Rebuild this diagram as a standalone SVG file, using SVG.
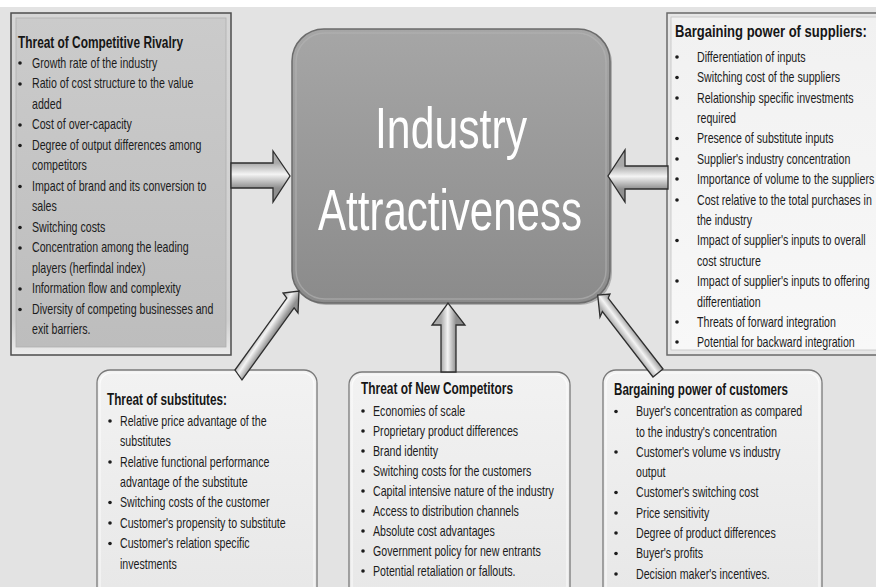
<svg xmlns="http://www.w3.org/2000/svg" width="876" height="587" viewBox="0 0 876 587">
<defs>
<style>
.t{font-family:"Liberation Sans",Arial,sans-serif;font-size:14px;fill:#1c1c1c}
.h{font-family:"Liberation Sans",Arial,sans-serif;font-size:16.5px;font-weight:bold;fill:#161616}
.c{font-family:"Liberation Sans",Arial,sans-serif;font-size:58px;fill:#ffffff}
.b{fill:#1c1c1c}
.arw{stroke:#2e2e2e;stroke-width:1.3;stroke-linejoin:miter}
</style>
<linearGradient id="gLeft" x1="0" y1="0" x2="0" y2="1">
<stop offset="0" stop-color="#cbcbcb"/><stop offset="1" stop-color="#bdbdbd"/>
</linearGradient>
<linearGradient id="gLeftOuter" x1="0" y1="0" x2="0" y2="1">
<stop offset="0" stop-color="#d6d6d6"/><stop offset="0.9" stop-color="#d0d0d0"/><stop offset="1" stop-color="#ececec"/>
</linearGradient>
<linearGradient id="gRight" x1="0" y1="0" x2="0" y2="1">
<stop offset="0" stop-color="#f1f1f1"/><stop offset="1" stop-color="#f8f8f8"/>
</linearGradient>
<linearGradient id="gBot" x1="0" y1="0" x2="0" y2="1">
<stop offset="0" stop-color="#f2f2f2"/><stop offset="1" stop-color="#e7e7e7"/>
</linearGradient>
<linearGradient id="gCenter" x1="0" y1="0" x2="0" y2="1">
<stop offset="0" stop-color="#a6a6a6"/><stop offset="1" stop-color="#8b8b8b"/>
</linearGradient>
<linearGradient id="a1" gradientUnits="userSpaceOnUse" x1="0" y1="163" x2="0" y2="188">
<stop offset="0" stop-color="#a9a9a9"/><stop offset="0.45" stop-color="#f4f4f4"/><stop offset="1" stop-color="#8f8f8f"/>
</linearGradient>
<linearGradient id="a4" gradientUnits="userSpaceOnUse" x1="0" y1="166" x2="0" y2="189">
<stop offset="0" stop-color="#a9a9a9"/><stop offset="0.45" stop-color="#f4f4f4"/><stop offset="1" stop-color="#8f8f8f"/>
</linearGradient>
<linearGradient id="a3" gradientUnits="userSpaceOnUse" x1="441" y1="0" x2="456" y2="0">
<stop offset="0" stop-color="#a9a9a9"/><stop offset="0.45" stop-color="#f4f4f4"/><stop offset="1" stop-color="#8f8f8f"/>
</linearGradient>
<linearGradient id="a2" gradientUnits="userSpaceOnUse" x1="259" y1="331" x2="271" y2="339">
<stop offset="0" stop-color="#a9a9a9"/><stop offset="0.45" stop-color="#f4f4f4"/><stop offset="1" stop-color="#8f8f8f"/>
</linearGradient>
<linearGradient id="a5" gradientUnits="userSpaceOnUse" x1="624" y1="340" x2="636" y2="331">
<stop offset="0" stop-color="#a9a9a9"/><stop offset="0.45" stop-color="#f4f4f4"/><stop offset="1" stop-color="#8f8f8f"/>
</linearGradient>
</defs>

<rect x="0" y="0" width="876" height="587" fill="#e3e3e3"/>
<rect x="0" y="0" width="876" height="7" fill="#ffffff"/>

<g id="rivalry">
<rect x="11" y="13" width="220" height="342" fill="url(#gLeftOuter)" stroke="#4d4d4d" stroke-width="1.5"/>
<rect x="16" y="18" width="210" height="329" fill="url(#gLeft)" stroke="#b0b0b0" stroke-width="0.8"/>
<text class="h" x="18" y="48" textLength="165" lengthAdjust="spacingAndGlyphs">Threat of Competitive Rivalry</text>
<g class="b">
<circle cx="20" cy="63" r="1.8"/><circle cx="20" cy="84" r="1.8"/><circle cx="20" cy="125" r="1.8"/>
<circle cx="20" cy="145.5" r="1.8"/><circle cx="20" cy="186.5" r="1.8"/><circle cx="20" cy="227.5" r="1.8"/>
<circle cx="20" cy="248" r="1.8"/><circle cx="20" cy="289" r="1.8"/><circle cx="20" cy="309.5" r="1.8"/>
</g>
<g transform="translate(32,0) scale(0.76,1)">
<text class="t" x="0" y="68">Growth rate of the industry</text>
<text class="t" x="0" y="88.5">Ratio of cost structure to the value</text>
<text class="t" x="0" y="109">added</text>
<text class="t" x="0" y="129.5">Cost of over-capacity</text>
<text class="t" x="0" y="150">Degree of output differences among</text>
<text class="t" x="0" y="170.5">competitors</text>
<text class="t" x="0" y="191">Impact of brand and its conversion to</text>
<text class="t" x="0" y="211.5">sales</text>
<text class="t" x="0" y="232">Switching costs</text>
<text class="t" x="0" y="252.5">Concentration among the leading</text>
<text class="t" x="0" y="273">players (herfindal index)</text>
<text class="t" x="0" y="293.5">Information flow and complexity</text>
<text class="t" x="0" y="314">Diversity of competing businesses and</text>
<text class="t" x="0" y="334.5">exit barriers.</text>
</g>
</g>

<g id="suppliers">
<rect x="667" y="13" width="220" height="342" fill="#e6e6e6" stroke="#6a6a6a" stroke-width="1.5"/>
<rect x="671" y="17" width="212" height="333" fill="url(#gRight)" stroke="#c4c4c4" stroke-width="0.8"/>
<g transform="translate(675,0) scale(0.79,1)">
<text class="h" x="0" y="37">Bargaining power of suppliers:</text>
</g>
<g class="b">
<circle cx="677" cy="57" r="1.8"/><circle cx="677" cy="77.5" r="1.8"/><circle cx="677" cy="98" r="1.8"/>
<circle cx="677" cy="138.5" r="1.8"/><circle cx="677" cy="159" r="1.8"/><circle cx="677" cy="179" r="1.8"/>
<circle cx="677" cy="200" r="1.8"/><circle cx="677" cy="240.5" r="1.8"/><circle cx="677" cy="281" r="1.8"/>
<circle cx="677" cy="322" r="1.8"/><circle cx="677" cy="342" r="1.8"/>
</g>
<g transform="translate(697,0) scale(0.76,1)">
<text class="t" x="0" y="62">Differentiation of inputs</text>
<text class="t" x="0" y="82.5">Switching cost of the suppliers</text>
<text class="t" x="0" y="103">Relationship specific investments</text>
<text class="t" x="0" y="123">required</text>
<text class="t" x="0" y="143.5">Presence of substitute inputs</text>
<text class="t" x="0" y="164">Supplier's industry concentration</text>
<text class="t" x="0" y="184">Importance of volume to the suppliers</text>
<text class="t" x="0" y="205">Cost relative to the total purchases in</text>
<text class="t" x="0" y="225">the industry</text>
<text class="t" x="0" y="245.5">Impact of supplier's inputs to overall</text>
<text class="t" x="0" y="266">cost structure</text>
<text class="t" x="0" y="286">Impact of supplier's inputs to offering</text>
<text class="t" x="0" y="307">differentiation</text>
<text class="t" x="0" y="327">Threats of forward integration</text>
<text class="t" x="0" y="347">Potential for backward integration</text>
</g>
</g>

<g id="substitutes">
<rect x="97" y="370" width="220" height="240" rx="13" fill="url(#gBot)" stroke="#7a7a7a" stroke-width="1.3"/>
<rect x="100" y="373" width="214" height="234" rx="11" fill="none" stroke="#ffffff" stroke-opacity="0.7" stroke-width="1.2"/>
<text class="h" x="107" y="405" textLength="120" lengthAdjust="spacingAndGlyphs">Threat of substitutes:</text>
<g class="b">
<circle cx="110" cy="421" r="1.8"/><circle cx="110" cy="462" r="1.8"/><circle cx="110" cy="502.5" r="1.8"/>
<circle cx="110" cy="523" r="1.8"/><circle cx="110" cy="543.5" r="1.8"/>
</g>
<g transform="translate(120,0) scale(0.76,1)">
<text class="t" x="0" y="426">Relative price advantage of the</text>
<text class="t" x="0" y="446.5">substitutes</text>
<text class="t" x="0" y="467">Relative functional performance</text>
<text class="t" x="0" y="487">advantage of the substitute</text>
<text class="t" x="0" y="507.5">Switching costs of the customer</text>
<text class="t" x="0" y="528">Customer's propensity to substitute</text>
<text class="t" x="0" y="548.5">Customer's relation specific</text>
<text class="t" x="0" y="569">investments</text>
</g>
</g>

<g id="new-competitors">
<rect x="349" y="372" width="221" height="240" rx="13" fill="url(#gBot)" stroke="#7a7a7a" stroke-width="1.3"/>
<rect x="352" y="375" width="215" height="234" rx="11" fill="none" stroke="#ffffff" stroke-opacity="0.7" stroke-width="1.2"/>
<text class="h" x="361" y="394" textLength="152" lengthAdjust="spacingAndGlyphs">Threat of New Competitors</text>
<g class="b">
<circle cx="363" cy="411" r="1.8"/><circle cx="363" cy="431" r="1.8"/><circle cx="363" cy="451" r="1.8"/>
<circle cx="363" cy="471" r="1.8"/><circle cx="363" cy="491" r="1.8"/><circle cx="363" cy="511" r="1.8"/>
<circle cx="363" cy="531" r="1.8"/><circle cx="363" cy="551" r="1.8"/><circle cx="363" cy="571" r="1.8"/>
</g>
<g transform="translate(373,0) scale(0.76,1)">
<text class="t" x="0" y="416">Economies of scale</text>
<text class="t" x="0" y="436">Proprietary product differences</text>
<text class="t" x="0" y="456">Brand identity</text>
<text class="t" x="0" y="476">Switching costs for the customers</text>
<text class="t" x="0" y="496">Capital intensive nature of the industry</text>
<text class="t" x="0" y="516">Access to distribution channels</text>
<text class="t" x="0" y="536">Absolute cost advantages</text>
<text class="t" x="0" y="556">Government policy for new entrants</text>
<text class="t" x="0" y="576">Potential retaliation or fallouts.</text>
</g>
</g>

<g id="customers">
<rect x="603" y="370" width="219" height="240" rx="13" fill="url(#gBot)" stroke="#7a7a7a" stroke-width="1.3"/>
<rect x="606" y="373" width="213" height="234" rx="11" fill="none" stroke="#ffffff" stroke-opacity="0.7" stroke-width="1.2"/>
<text class="h" x="614" y="395" textLength="174" lengthAdjust="spacingAndGlyphs">Bargaining power of customers</text>
<g class="b">
<circle cx="616" cy="411.5" r="1.8"/><circle cx="616" cy="452" r="1.8"/><circle cx="616" cy="492.5" r="1.8"/>
<circle cx="616" cy="513" r="1.8"/><circle cx="616" cy="533" r="1.8"/><circle cx="616" cy="553.5" r="1.8"/>
<circle cx="616" cy="574" r="1.8"/>
</g>
<g transform="translate(636,0) scale(0.76,1)">
<text class="t" x="0" y="416.5">Buyer's concentration as compared</text>
<text class="t" x="0" y="437">to the industry's concentration</text>
<text class="t" x="0" y="457">Customer's volume vs industry</text>
<text class="t" x="0" y="477.5">output</text>
<text class="t" x="0" y="497.5">Customer's switching cost</text>
<text class="t" x="0" y="518">Price sensitivity</text>
<text class="t" x="0" y="538">Degree of product differences</text>
<text class="t" x="0" y="558.5">Buyer's profits</text>
<text class="t" x="0" y="579">Decision maker's incentives.</text>
</g>
</g>

<g id="industry-attractiveness">
<rect x="294" y="31" width="318" height="274" rx="32" fill="#6f6f6f" opacity="0.45"/>
<rect x="292" y="29" width="318" height="274" rx="32" fill="url(#gCenter)" stroke="#6b6b6b" stroke-width="1.5"/>
<rect x="296" y="33" width="310" height="266" rx="29" fill="none" stroke="#b4b4b4" stroke-opacity="0.6" stroke-width="1.5"/>
<text class="c" x="375" y="148" textLength="152" lengthAdjust="spacingAndGlyphs">Industry</text>
<text class="c" x="318" y="230" textLength="264" lengthAdjust="spacingAndGlyphs">Attractiveness</text>
</g>

<g id="connectors">
<polygon class="arw" fill="url(#a1)" points="231,163 273,163 273,151 290,176 273,202 273,188 231,188"/>
<polygon class="arw" fill="url(#a4)" points="668,166 625,166 625,150 608,176 625,202 625,189 668,189"/>
<polygon class="arw" fill="url(#a3)" points="441,372 441,325 432,325 448,303 465,325 456,325 456,372"/>
<polygon class="arw" fill="url(#a2)" points="235,370 286.8,298.1 283,293 299,291 298,313 294.1,307.8 242,380"/>
<polygon class="arw" fill="url(#a5)" points="653,377 602.4,311.5 600,317 597.7,295 610,294 608.2,298.1 663,369"/>
</g>
</svg>
